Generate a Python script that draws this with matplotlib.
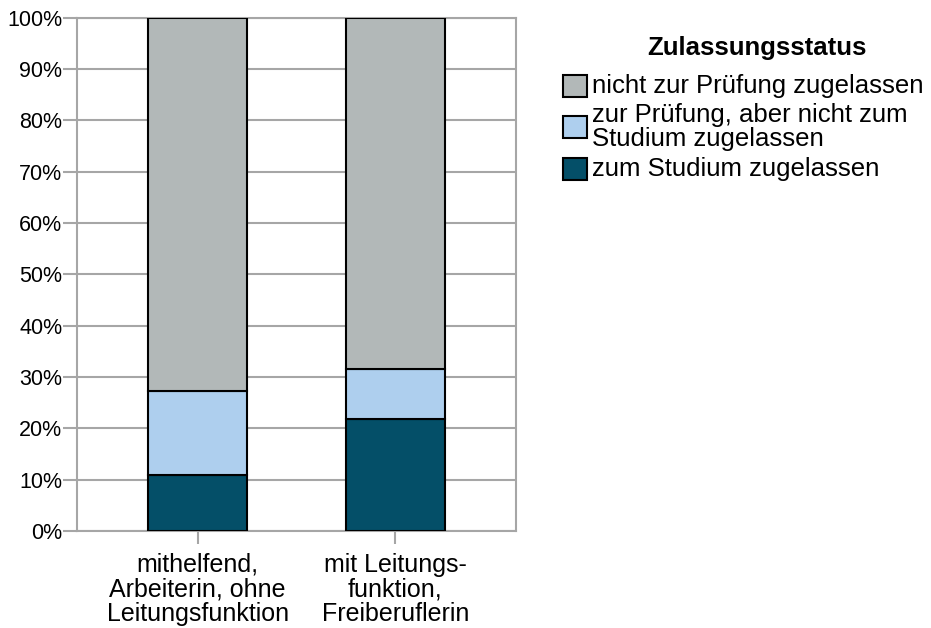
import matplotlib
matplotlib.use('Agg')
import matplotlib.pyplot as plt
from matplotlib.patches import Rectangle
import numpy as np

plt.rcParams['font.family'] = ['Liberation Sans', 'DejaVu Sans']

# Data (percent)
categories = ['mithelfend,\nArbeiterin, ohne\nLeitungsfunktion',
              'mit Leitungs-\nfunktion,\nFreiberuflerin']
zum_studium = [10.9, 21.8]
zur_pruefung = [16.4, 9.7]
nicht_zugelassen = [72.7, 68.5]

series_labels = ['zum Studium zugelassen',
                 'zur Prüfung, aber nicht zum\nStudium zugelassen',
                 'nicht zur Prüfung zugelassen']
colors = ['#044f68', '#aecfee', '#b2b8b8']
grid_col = '#a6a6a6'

W, H = 931, 628
fig = plt.figure(figsize=(W / 100, H / 100), dpi=100)
ax = fig.add_axes([0.0827, 0.1545, 0.4715, 0.8175])

x = np.arange(len(categories))
bottom = np.zeros(len(categories))
for vals, col, lab in zip([zum_studium, zur_pruefung, nicht_zugelassen], colors, series_labels):
    ax.bar(x, vals, width=0.5, bottom=bottom, color=col, edgecolor='black',
           linewidth=1.5, label=lab, zorder=3)
    bottom += np.array(vals)

ax.set_xlim(-0.61, 1.61)
ax.set_ylim(0, 100)
ax.set_yticks(np.arange(0, 101, 10))
ax.set_yticklabels([f'{v}%' for v in range(0, 101, 10)], fontsize=15.5)
ax.set_xticks(x)
ax.set_xticklabels(categories, fontsize=18, linespacing=1.05)
ax.yaxis.grid(True, color=grid_col, linewidth=1.5, zorder=0)
for s in ax.spines.values():
    s.set_color(grid_col)
    s.set_linewidth(1.5)
# tick lengths in points (~14px and ~13px)
ax.tick_params(axis='y', length=10, width=1.5, color=grid_col, pad=0.5)
ax.tick_params(axis='x', length=9.5, width=1.5, color=grid_col, pad=6)

# legend drawn by hand (pixel layout from the reference), top entry = top segment
fig.text(757 / W, 1 - 48 / H, 'Zulassungsstatus', fontsize=18.5, weight='bold',
         ha='center', va='center')
entry_y = [85.5, 127, 169]
for yc, col, lab in zip(entry_y, colors[::-1], series_labels[::-1]):
    fig.add_artist(Rectangle((563 / W, 1 - (yc + 11) / H), 24 / W, 22 / H,
                             facecolor=col, edgecolor='black', linewidth=1.5,
                             transform=fig.transFigure))
    fig.text(592 / W, 1 - yc / H, lab, fontsize=18.5, ha='left', va='center',
             linespacing=0.97)

fig.savefig('out.png', dpi=100)
